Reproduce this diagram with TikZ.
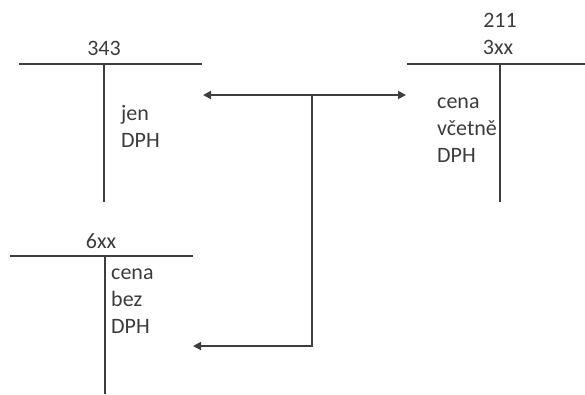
\documentclass[tikz,border=0pt]{standalone}
\usepackage{fontspec}
\setmainfont{Carlito}
\usetikzlibrary{arrows.meta,positioning}
\definecolor{ink}{RGB}{62,62,62}
\definecolor{tinted}{RGB}{60,60,60}

\begin{document}
\begin{tikzpicture}[x=1pt, y=-1pt,
  bar/.style={draw=ink, line width=2.6pt},
  arr/.style={-{Triangle[length=8pt, width=8pt]}, line width=1.8pt, ink},
  title/.style={font=\fontsize{22}{27}\selectfont, text=tinted, inner sep=0pt, anchor=base},
  note/.style={font=\fontsize{22}{27}\selectfont, text=tinted, inner sep=0pt,
               align=left, anchor=base west}
]
  \useasboundingbox (0,0) rectangle (585,394);
  % ucet 343
  \coordinate (dphL) at (19,64);
  \coordinate (dphR) at (202,64);
  \coordinate (dphT) at (104,64);
  \coordinate (dphB) at (104,202);
  \draw[bar] (dphL) -- (dphR);
  \draw[bar] (dphT) -- (dphB);
  \node[title] (n343) at (104,55) {343};
  \node[note] (t343) at (121,147) {jen\\DPH};
  % ucet 211 / 3xx
  \coordinate (odbL) at (407,64);
  \coordinate (odbR) at (585,64);
  \coordinate (odbT) at (500,64);
  \coordinate (odbB) at (500,202);
  \draw[bar] (odbL) -- (odbR);
  \draw[bar] (odbT) -- (odbB);
  \node[title] (n3xx) at (498,54) {3xx};
  \node[title] (n211) at (500,27) {211};
  \node[note] (t3xx) at (437,162) {cena\\včetně\\DPH};
  % ucet 6xx
  \coordinate (nakL) at (10,256);
  \coordinate (nakR) at (193,256);
  \coordinate (nakT) at (105,256);
  \coordinate (nakB) at (105,394);
  \draw[bar] (nakL) -- (nakR);
  \draw[bar] (nakT) -- (nakB);
  \node[title] (n6xx) at (101,248) {6xx};
  \node[note] (t6xx) at (111,333) {cena\\bez\\DPH};
  % rozdeleni
  \coordinate (split) at (312,95);
  \coordinate (toDph) at (203,95);
  \coordinate (toOdb) at (406,95);
  \coordinate (turn) at (312,346);
  \coordinate (toNak) at (193,346);
  \draw[arr] (split) -- (toDph);
  \draw[arr] (split) -- (toOdb);
  \draw[arr] (split) -- (turn) -- (toNak);
\end{tikzpicture}
\end{document}
